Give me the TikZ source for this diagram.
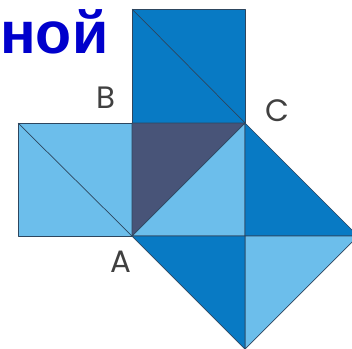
\documentclass[tikz,border=0pt]{standalone}
\usepackage{fontspec}
\usepackage{tikz}
\newfontfamily\headfont{Liberation Sans}
\newfontfamily\lblfont{Poppins}
\definecolor{paleblue}{RGB}{108,190,235}
\definecolor{deepblue}{RGB}{8,122,196}
\definecolor{duskblue}{RGB}{72,84,120}
\definecolor{edgeblue}{RGB}{45,70,95}
\definecolor{headblue}{RGB}{0,0,204}

\begin{document}
\begin{tikzpicture}[
  x=0.25mm, y=-0.25mm,
  tile/.style={draw=edgeblue, line width=0.5pt, line join=round},
  pale/.style={tile, fill=paleblue},
  deep/.style={tile, fill=deepblue},
  dusk/.style={tile, fill=duskblue},
  lbl/.style={font=\lblfont\fontsize{22}{22}\selectfont, text=black!75, inner sep=0pt},
]
  \useasboundingbox (0,0) rectangle (352,348);
  \clip (0,0) rectangle (352,348);

  % Corner points
  \coordinate (A) at (132,236);
  \coordinate (B) at (132,123);
  \coordinate (C) at (245,123);
  \coordinate (D) at (245,236);
  \coordinate (E) at (358,236);
  \coordinate (F) at (245,349);
  \coordinate (T1) at (132,9);
  \coordinate (L1) at (18,123);

  % Square on AB
  \draw[pale] (L1) rectangle (A);
  \draw[tile] (L1) -- (A);

  % Square on BC
  \draw[deep] (T1) rectangle (C);
  \draw[tile] (T1) -- (C);

  % Triangle ABC
  \draw[dusk] (A) -- (B) -- (C) -- cycle;

  % Square on AC, cut by its diagonals
  \draw[pale] (A) -- (C) -- (D) -- cycle;
  \draw[deep] (C) -- (E) -- (D) -- cycle;
  \draw[pale] (E) -- (F) -- (D) -- cycle;
  \draw[deep] (F) -- (A) -- (D) -- cycle;

  % Labels
  \node[lbl] (labA) at (121,262) {A};
  \node[lbl] (labB) at (106,98) {B};
  \node[lbl] (labC) at (277,111) {C};

  % Heading fragment
  \node[font=\headfont\bfseries\fontsize{42}{42}\selectfont, text=headblue,
        anchor=base west, inner sep=0pt] (head) at (0,53) {ной};
\end{tikzpicture}
\end{document}
